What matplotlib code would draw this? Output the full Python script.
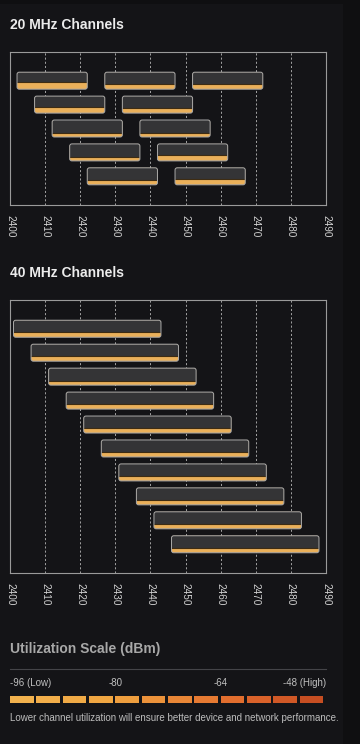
import matplotlib
matplotlib.use("Agg")
import matplotlib.pyplot as plt
from matplotlib.patches import FancyBboxPatch, Rectangle

plt.rcParams['font.family'] = ['Liberation Sans', 'DejaVu Sans']

# 20 MHz channels: center frequency, row, utilization fill (fraction of bar)
c20_centers = [2412, 2417, 2422, 2427, 2432, 2437, 2442, 2447, 2452, 2457, 2462]
c20_rows = [0, 1, 2, 3, 4, 0, 1, 2, 3, 4, 0]
c20_util = [0.39, 0.34, 0.20, 0.21, 0.24, 0.27, 0.26, 0.20, 0.33, 0.30, 0.27]

# 40 MHz channels
c40_centers = [2422, 2427, 2432, 2437, 2442, 2447, 2452, 2457, 2462, 2467]
c40_rows = [0, 1, 2, 3, 4, 5, 6, 7, 8, 9]
c40_util = [0.25, 0.25, 0.24, 0.24, 0.24, 0.25, 0.25, 0.25, 0.25, 0.26]

freq_ticks = [2400, 2410, 2420, 2430, 2440, 2450, 2460, 2470, 2480, 2490]

# utilization scale
scale_dbm = [-96, -92, -88, -84, -80, -76, -72, -68, -64, -60, -56, -52]
scale_colors = ['#f2b24e', '#f2ae4a', '#f0aa46', '#f0a642', '#ee9e3e', '#ec923a',
                '#e88636', '#e67a32', '#e26e2e', '#da622a', '#d05826', '#c64e22']
scale_ticks = [-96, -80, -64, -48]
scale_labels = ['-96 (Low)', '-80', '-64', '-48 (High)']

BG = '#141417'
ORANGE = '#eab05a'
BAR = '#343436'

W, H = 360, 744
fig = plt.figure(figsize=(W / 100, H / 100), dpi=100)
fig.patch.set_facecolor('#0f0f11')
fig.add_artist(Rectangle((0, 0), 343 / W, 1 - 4 / H, transform=fig.transFigure,
                         fc=BG, ec='none', zorder=-10))


def channel_axes(top_px, bottom_px, centers, rows, util, width):
    ax = fig.add_axes([10 / W, 1 - bottom_px / H, 316 / W, (bottom_px - top_px) / H])
    ax.set_facecolor(BG)
    n = max(rows) + 1
    ax.set_xlim(2400, 2490)
    ax.set_ylim(n - 1 + 1.2, -1.2)
    # px per unit -> aspect for rounded corners
    px_x = 316 / 90
    px_y = (bottom_px - top_px) / (n - 1 + 2.4)
    asp = px_x / px_y
    h = 17 / px_y
    r = 2.2 / px_x
    for c, row, u in zip(centers, rows, util):
        x0 = c - width / 2
        y0 = row - h / 2
        base = FancyBboxPatch((x0, y0), width, h, boxstyle=f"round,pad=0,rounding_size={r}",
                              mutation_aspect=asp, fc=ORANGE, ec='none', zorder=3)
        ax.add_patch(base)
        top = Rectangle((x0, y0), width, h * (1 - u), fc=BAR, ec='none', zorder=4)
        top.set_clip_path(base)
        ax.add_patch(top)
        yl = y0 + h * (1 - u) - 0.5 / px_y
        ln, = ax.plot([x0, x0 + width], [yl, yl], color='#3e2c12', lw=0.8, zorder=5)
        ln.set_clip_path(base)
        ax.add_patch(FancyBboxPatch((x0, y0), width, h, boxstyle=f"round,pad=0,rounding_size={r}",
                                    mutation_aspect=asp, fc='none', ec='#a8a8a8', lw=0.7, zorder=6))
    for f in freq_ticks[1:-1]:
        ax.axvline(f, color='#b8b8b8', lw=0.6, ls=(0, (2.5, 2.5)), zorder=1)
    ax.set_xticks(freq_ticks)
    ax.set_xticklabels([str(f) for f in freq_ticks], rotation=-90, color='#d0d0d0', fontsize=7.2)
    ax.tick_params(axis='x', length=0, pad=7)
    ax.set_yticks([])
    for s in ax.spines.values():
        s.set_color('#9a9a9a')
        s.set_linewidth(0.8)
    return ax


channel_axes(52, 205, c20_centers, c20_rows, c20_util, 20)
channel_axes(300, 573, c40_centers, c40_rows, c40_util, 42)

fig.text(10 / W, 1 - 25 / H, '20 MHz Channels', color='#ececec', fontsize=10,
         fontweight='bold', va='center', ha='left')
fig.text(10 / W, 1 - 273 / H, '40 MHz Channels', color='#ececec', fontsize=10,
         fontweight='bold', va='center', ha='left')
fig.text(10 / W, 1 - 649 / H, 'Utilization Scale (dBm)', color='#a8a8a8', fontsize=10,
         fontweight='bold', va='center', ha='left')
fig.add_artist(plt.Line2D([10 / W, 326 / W], [1 - 669 / H, 1 - 669 / H],
                          transform=fig.transFigure, color='#444448', lw=0.8))

sax = fig.add_axes([10 / W, 1 - 703 / H, 316 / W, 7 / H])
sax.set_facecolor(BG)
sax.bar(scale_dbm, 1, width=3.6, align='edge', color=scale_colors)
sax.set_xlim(-96, -48)
sax.set_ylim(0, 1)
sax.axis('off')
for v, lab in zip(scale_ticks, scale_labels):
    ha = 'left' if v == scale_ticks[0] else ('right' if v == scale_ticks[-1] else 'center')
    sax.text(v, 1 + 13 / 7, lab, ha=ha, va='center', color='#c0c0c0', fontsize=7)

fig.text(10 / W, 1 - 718 / H,
         'Lower channel utilization will ensure better device and network performance.',
         color='#bdbdbd', fontsize=7, va='center', ha='left')

fig.savefig('out.png', dpi=100, facecolor=fig.get_facecolor())
